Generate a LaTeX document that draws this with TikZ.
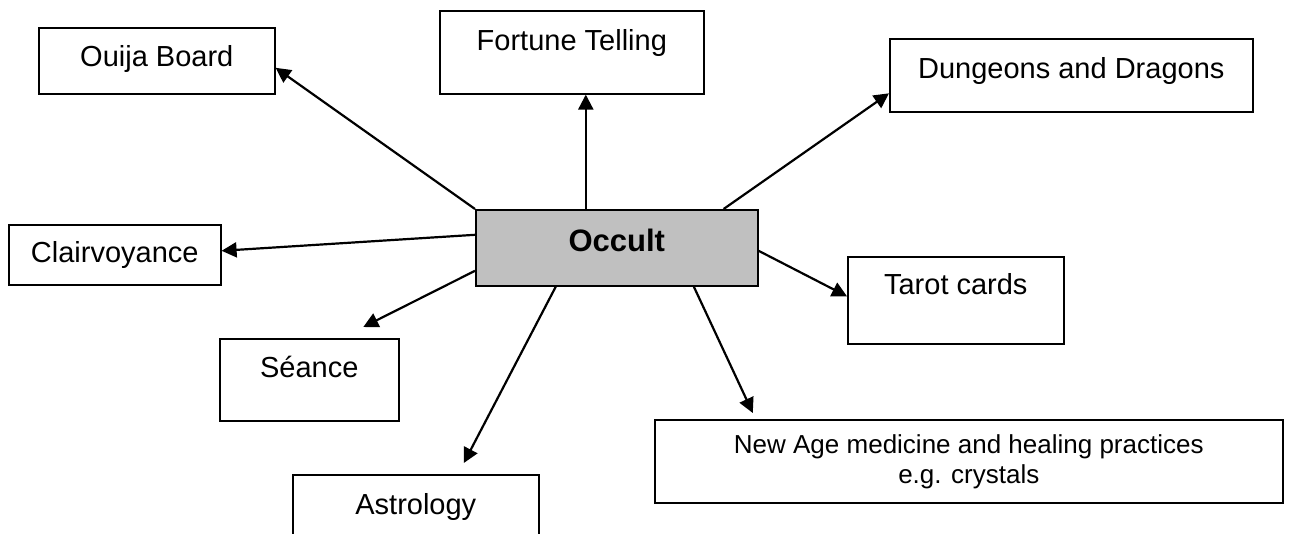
\documentclass[tikz,border=0pt]{standalone}
\usepackage{fontspec}
\setmainfont{Liberation Sans}
\usepackage{xcolor}
\usetikzlibrary{arrows.meta}
\usetikzlibrary{calc}
\usetikzlibrary{positioning}
\definecolor{occultgray}{RGB}{192,192,192}

\begin{document}
\begin{tikzpicture}[x=1pt,y=-1pt,semithick]
	\tikzstyle{box}=[draw=black, line width=1.6pt, rectangle, anchor=north west, inner sep=0pt, text height=21pt, font=\fontsize{29}{34}\selectfont]
	\tikzstyle{arr}=[-{Triangle[length=15pt,width=15pt]}, line width=2.2pt]
	\clip (0,0) rectangle (1289,533);
		\node[box, minimum width=282pt, minimum height=76pt, text depth=14pt, fill=occultgray, font=\fontsize{31}{34}\selectfont\bfseries] (occult) at (475,209) {Occult};
		\node[box, minimum width=236pt, minimum height=66pt, text depth=10pt] (ouija) at (38,27) {Ouija Board};
		\node[box, minimum width=264pt, minimum height=83pt, text depth=25pt] (fortune) at (439,10) {Fortune Telling};
		\node[box, minimum width=363pt, minimum height=73pt, text depth=15pt] (dungeons) at (889,38) {Dungeons and Dragons};
		\node[box, minimum width=212pt, minimum height=60pt, text depth=6pt] (clair) at (8,224) {Clairvoyance};
		\node[box, minimum width=216pt, minimum height=87pt, text depth=33pt] (tarot) at (847,256) {Tarot cards};
		\node[box, minimum width=179pt, minimum height=82pt, text depth=26pt] (seance) at (219,338) {Séance};
		\node[box, minimum width=246pt, minimum height=82pt, text depth=24pt] (astro) at (292,474) {Astrology};
		\node[box, minimum width=628pt, minimum height=83pt, text height=, text depth=, align=center, font=\fontsize{26}{30}\selectfont] (newage) at (654,419) {New Age medicine and healing practices\\e.g. crystals};
		% arrows out of the centre box
		\draw[arr] (occult.north west) -- ([yshift=-7pt]ouija.east);
		\draw[arr] ([xshift=-31pt]occult.north) -- ([xshift=-31pt]occult.north |- fortune.south);
		\draw[arr] ([xshift=-35pt]occult.north east) -- ([yshift=-18pt]dungeons.west);
		\draw[arr] ([yshift=13pt]occult.west) -- ([yshift=4pt]clair.east);
		\draw[arr] ([yshift=-23pt]occult.west) -- ([xshift=54pt,yshift=11pt]seance.north);
		\draw[arr] ([xshift=-61pt]occult.south) -- ([xshift=48pt,yshift=11pt]astro.north);
		\draw[arr] ([xshift=77pt]occult.south) -- ([xshift=-216pt,yshift=6pt]newage.north);
		\draw[arr] ([yshift=-3pt]occult.east) -- ([yshift=4pt]tarot.west);
\end{tikzpicture}
\end{document}
